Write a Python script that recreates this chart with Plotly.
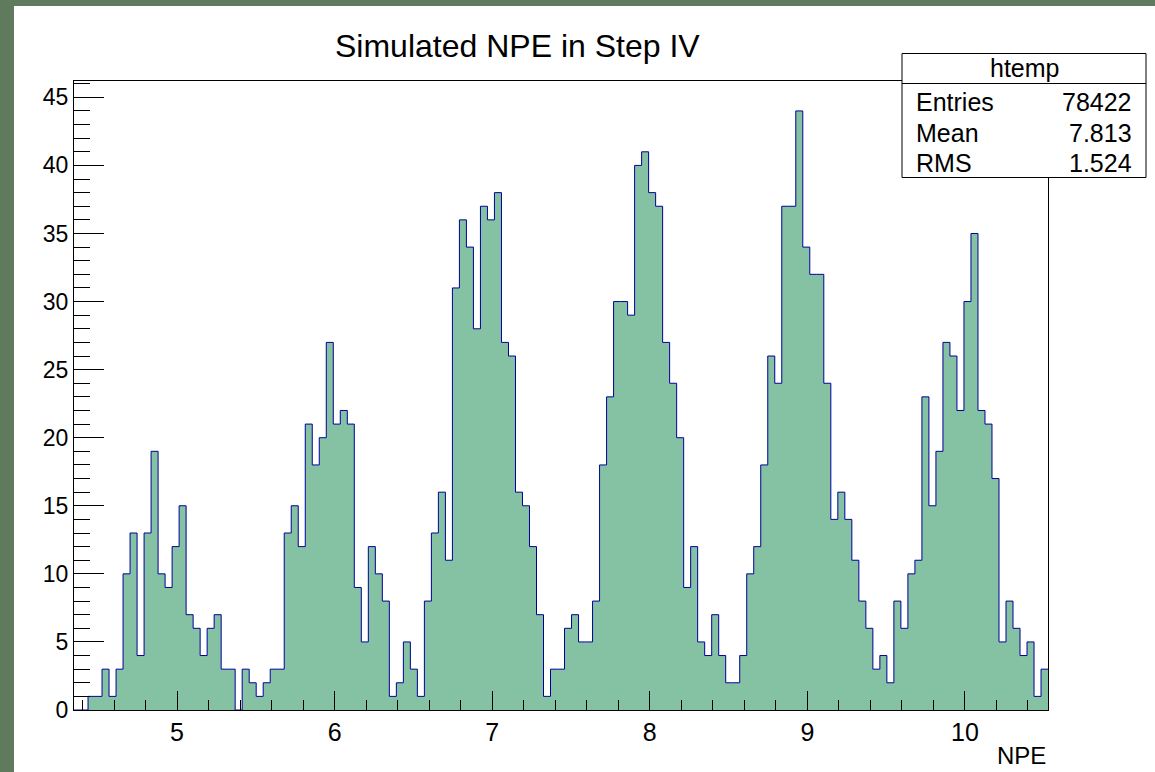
import plotly.graph_objects as go

# ---------------- data ----------------
x_min = 4.346          # left edge of the first bin / axis minimum
bin_width = 0.04447    # width of each bin in NPE units
x_max = 10.527
y_max = 46.2

counts = [
    0, 0,
    1, 1, 3, 1, 3, 10, 13, 4, 13, 19, 10, 9, 12, 15, 7, 6, 4, 6, 7, 3, 3,
    0,
    3, 2, 1, 2, 3, 3, 13, 15, 12, 21, 18, 20, 27, 21, 22, 21, 9, 5, 12, 10, 8, 1, 2,
    5, 3, 1, 8, 13, 16, 11, 31, 36, 34, 28, 37, 36, 38, 27, 26, 16, 15, 12, 7, 1, 3, 3,
    6, 7, 5, 5, 8, 18, 23, 30, 30, 29, 40, 41, 38, 37, 27, 24, 20, 9, 12, 5, 4, 7, 4,
    2, 2, 4, 10, 12, 18, 26, 24, 37, 37, 44, 34, 32, 32, 24, 14, 16, 14, 11, 8, 6, 3, 4,
    2, 8, 6, 10, 11, 23, 15, 19, 27, 26, 22, 30, 35, 22, 21, 17, 5, 8, 6, 4, 5, 1, 3,
]

title_text = "Simulated NPE in Step IV"
x_title = "NPE"
stats_name = "htemp"
stats_labels = ["Entries", "Mean", "RMS"]
stats_values = ["78422", "7.813", "1.524"]

# ---------------- geometry ----------------
W, H = 1155, 772
L, R, T, B = 74, 1048, 81, 710   # plot frame in pixels


def px(x):
    return (x - L) / (R - L)


def py(y):
    return (B - y) / (B - T)


edges = [x_min + i * bin_width for i in range(len(counts) + 1)]
ys = counts + [counts[-1]]

FONT = "Liberation Sans, Arial, Helvetica, sans-serif"

fig = go.Figure()
fig.add_trace(go.Scatter(
    x=edges, y=ys,
    mode="lines",
    line=dict(shape="hv", color="rgb(0,0,153)", width=1),
    fill="tozeroy",
    fillcolor="rgb(133,194,163)",
    hoverinfo="skip",
    showlegend=False,
))

fig.update_layout(
    width=W, height=H,
    margin=dict(l=L, r=W - R, t=T, b=H - B, pad=0),
    paper_bgcolor="white",
    plot_bgcolor="white",
    showlegend=False,
    font=dict(family=FONT, color="black"),
)

fig.update_xaxes(
    range=[x_min, x_max],
    showline=True, linecolor="black", linewidth=1, mirror=True,
    showgrid=False, zeroline=False,
    ticks="inside", ticklen=19, tickwidth=1, tickcolor="black",
    tick0=0, dtick=1,
    tickfont=dict(size=25, family=FONT, color="black"),
    minor=dict(ticks="inside", ticklen=10, tickwidth=1, tickcolor="black",
               tick0=0, dtick=0.2, showgrid=False),
)
fig.update_yaxes(
    range=[0, y_max],
    showline=True, linecolor="black", linewidth=1, mirror=True,
    showgrid=False, zeroline=False,
    ticks="inside", ticklen=30, tickwidth=1, tickcolor="black",
    tick0=0, dtick=5,
    tickfont=dict(size=23, family=FONT, color="black"),
    minor=dict(ticks="inside", ticklen=16, tickwidth=1, tickcolor="black",
               tick0=0, dtick=1, showgrid=False),
)

shapes = [
    # dark green canvas border (left and top strips)
    dict(type="rect", xref="paper", yref="paper",
         x0=px(0), x1=px(14), y0=py(H), y1=py(0),
         fillcolor="rgb(96,122,93)", line=dict(width=0), layer="below"),
    dict(type="rect", xref="paper", yref="paper",
         x0=px(0), x1=px(W), y0=py(6), y1=py(0),
         fillcolor="rgb(96,122,93)", line=dict(width=0), layer="below"),
    # stats box
    dict(type="rect", xref="paper", yref="paper",
         x0=px(902), x1=px(1146), y0=py(177.5), y1=py(53.5),
         fillcolor="white", line=dict(color="black", width=1), layer="above"),
    dict(type="line", xref="paper", yref="paper",
         x0=px(902), x1=px(1146), y0=py(83.5), y1=py(83.5),
         line=dict(color="black", width=1), layer="above"),
]
fig.update_layout(shapes=shapes)

ann = []
ann.append(dict(text=title_text, xref="paper", yref="paper",
                x=px(517), y=py(46), xanchor="center", yanchor="middle",
                showarrow=False, font=dict(size=32, family=FONT, color="black")))
ann.append(dict(text=x_title, xref="paper", yref="paper",
                x=px(1048), y=py(755), xanchor="right", yanchor="middle",
                showarrow=False, font=dict(size=24, family=FONT, color="black")))
ann.append(dict(text=stats_name, xref="paper", yref="paper",
                x=px(1024), y=py(68), xanchor="center", yanchor="middle",
                showarrow=False, font=dict(size=25, family=FONT, color="black")))
rows_y = [101.5, 132.5, 162.5]
for lab, val, yy in zip(stats_labels, stats_values, rows_y):
    ann.append(dict(text=lab, xref="paper", yref="paper",
                    x=px(914), y=py(yy), xanchor="left", yanchor="middle",
                    showarrow=False, font=dict(size=25, family=FONT, color="black")))
    ann.append(dict(text=val, xref="paper", yref="paper",
                    x=px(1134), y=py(yy), xanchor="right", yanchor="middle",
                    showarrow=False, font=dict(size=25, family=FONT, color="black")))
fig.update_layout(annotations=ann)

fig.write_html("out.html")
